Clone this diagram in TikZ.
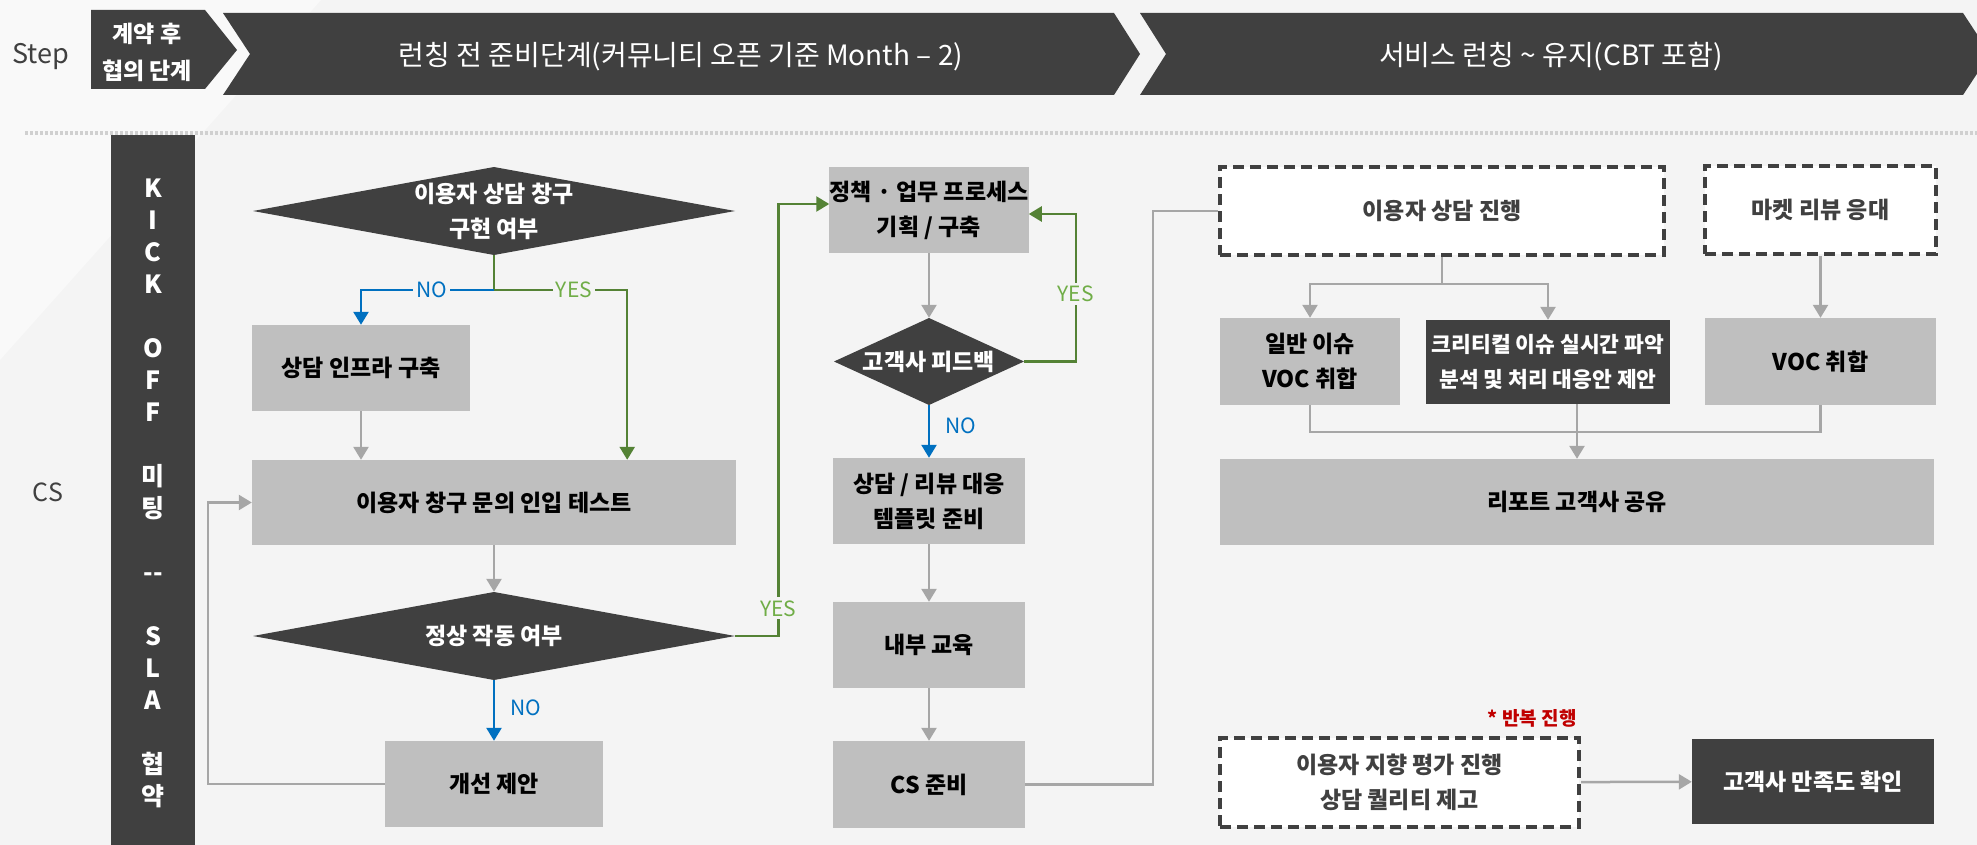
\documentclass[tikz,border=0pt]{standalone}
\usepackage{fontspec}
\setmainfont{Noto Sans CJK KR}
\usetikzlibrary{arrows.meta}
\definecolor{bgc}{HTML}{F4F4F4}
\definecolor{lightc}{HTML}{F9F9F9}
\definecolor{darkc}{HTML}{404040}
\definecolor{boxc}{HTML}{BFBFBF}
\definecolor{linec}{HTML}{A6A6A6}
\definecolor{dotc}{HTML}{D0D0D0}
\definecolor{yesc}{HTML}{548235}
\definecolor{yestxt}{HTML}{70AD47}
\definecolor{noc}{HTML}{0070C0}
\definecolor{redc}{HTML}{C00000}
\begin{document}
\begin{tikzpicture}[x=1pt,y=-1pt,>={Triangle[width=15pt,length=13pt]},
  gbox/.style={fill=boxc,inner sep=0pt,align=center,font=\fontsize{23}{35}\selectfont\bfseries},
  dbox/.style={gbox,fill=darkc,text=white},
  wbox/.style={fill=white,draw=darkc,line width=4pt,dash pattern=on 11pt off 6pt,inner sep=0pt,align=center,text=darkc,font=\fontsize{23}{35}\selectfont\bfseries},
  dia/.style={inner sep=0pt,align=center,text=white,font=\fontsize{23}{35}\selectfont\bfseries,
    path picture={\fill[darkc] (path picture bounding box.west) -- (path picture bounding box.north) -- (path picture bounding box.east) -- (path picture bounding box.south) -- cycle;}},
  sz/.style 2 args={minimum width=#1pt,minimum height=#2pt},
  conn/.style={linec,line width=2.5pt},
  yesline/.style={yesc,line width=2.5pt},
  noline/.style={noc,line width=2.5pt},
  yeslbl/.style={text=yestxt,fill=bgc,inner sep=3pt,font=\fontsize{21}{21}\selectfont},
  nolbl/.style={text=noc,fill=bgc,inner sep=3pt,font=\fontsize{21}{21}\selectfont},
  steplbl/.style={text=white,font=\fontsize{28}{28}\selectfont}]
\useasboundingbox (0,0) rectangle (1977,845);
\clip (0,0) rectangle (1977,845);
\fill[bgc] (0,0) rectangle (1977,845);
\fill[lightc] (0,0) -- (321,0) -- (0,360) -- cycle;
\fill[darkc] (91,10) -- (205,10) -- (237,50) -- (205,89) -- (91,89) -- cycle;
\fill[darkc] (223,13) -- (1114,13) -- (1140,54) -- (1114,95) -- (223,95) -- (250,54) -- cycle;
\fill[darkc] (1140,13) -- (1963,13) -- (1990,54) -- (1963,95) -- (1140,95) -- (1166,54) -- cycle;
\node[text=darkc,font=\fontsize{27}{27}\selectfont] (step) at (41,57) {Step};
\node[text=white,align=center,font=\fontsize{23}{37}\selectfont\bfseries] (contract) at (147,52) {계약 후\\협의 단계};
\node[steplbl] (prelaunch) at (681,57) {런칭 전 준비단계(커뮤니티 오픈 기준 Month – 2)};
\node[steplbl] (launch) at (1551,57) {서비스 런칭 \textasciitilde{} 유지(CBT 포함)};
\draw[dotc,line width=4pt,dash pattern=on 3pt off 2pt] (25,133) -- (1977,133);
\node[text=darkc,font=\fontsize{25}{25}\selectfont] (cs) at (48,492) {CS};
\fill[darkc] (111,135) rectangle (195,845);
\node[text=white,align=center,font=\fontsize{25}{32}\selectfont\bfseries] (kickoff) at (153,493)
  {K\\I\\C\\K\\[32pt]O\\F\\F\\[32pt]미\\팅\\[32pt]-{}-\\[32pt]S\\L\\A\\[32pt]협\\약};

\node[dia,sz={482}{88}] (dia1) at (494,211) {이용자 상담 창구\\구현 여부};
\node[gbox,sz={218}{86}] (infra) at (361,368) {상담 인프라 구축};
\node[gbox,sz={484}{85}] (test) at (494,502.5) {이용자 창구 문의 인입 테스트};
\node[dia,sz={482}{88}] (dia2) at (494,636) {정상 작동 여부};
\node[gbox,sz={218}{86}] (fix) at (494,784) {개선 제안};

\node[gbox,sz={192}{86}] (policy) at (929,210) {정책 · 업무 프로세스\\기획 / 구축};
\node[dia,sz={190}{87}] (fb) at (929,361.5) {고객사 피드백};
\node[gbox,sz={192}{86}] (tmpl) at (929,501) {상담 / 리뷰 대응\\템플릿 준비};
\node[gbox,sz={192}{86}] (edu) at (929,645) {내부 교육};
\node[gbox,sz={192}{87}] (prep) at (929,784.5) {CS 준비};

\node[wbox,sz={444}{88}] (consult) at (1442,211) {이용자 상담 진행};
\node[wbox,sz={231}{88}] (market) at (1820.5,210) {마켓 리뷰 응대};
\node[gbox,sz={180}{87}] (general) at (1310,361.5) {일반 이슈\\VOC 취합};
\node[dbox,sz={244}{84},font=\fontsize{21.5}{35}\selectfont\bfseries] (critical) at (1548,362) {크리티컬 이슈 실시간 파악\\분석 및 처리 대응안 제안};
\node[gbox,sz={231}{87}] (voc) at (1820.5,361.5) {VOC 취합};
\node[gbox,sz={714}{86}] (report) at (1577,502) {리포트 고객사 공유};
\node[wbox,sz={359}{89}] (eval) at (1399.5,782.5) {이용자 지향 평가 진행\\상담 퀄리티 제고};
\node[dbox,sz={242}{85}] (sat) at (1813,781.5) {고객사 만족도 확인};
\node[text=redc,anchor=east,font=\fontsize{19}{19}\selectfont\bfseries] (repeat) at (1580,718) {* 반복 진행};

\coordinate (split1) at ([yshift=-35pt]dia1.south);
\draw[yesline] (dia1.south) -- (split1);
\draw[yesline,->] (split1) -| node[yeslbl,pos=0.3] (yes1) {YES} ([xshift=-109pt]test.north east);
\draw[noline,->] (split1) -| node[nolbl,pos=0.235] (no1) {NO} (infra.north);
\draw[conn,->] (infra.south) -- (infra.south |- test.north);
\draw[conn,->] (test) -- (dia2);
\draw[noline,->] (dia2) -- node[nolbl,right=12pt,pos=0.45] (no2) {NO} (fix);
\draw[conn,->] (fix.west) -| ([xshift=-44pt]test.west) -- (test.west);
\draw[yesline,->] (dia2.east) -| node[yeslbl,pos=0.532] (yes2) {YES} ([xshift=-51pt,yshift=6pt]policy.west) -- ([yshift=6pt]policy.west);

\draw[conn,->] (policy) -- (fb);
\draw[yesline,->] (fb.east) -| node[yeslbl,pos=0.73] (yes3) {YES} ([xshift=47pt,yshift=-4pt]policy.east) -- ([yshift=-4pt]policy.east);
\draw[noline,->] (fb) -- node[nolbl,right=12pt,pos=0.4] (no3) {NO} (tmpl);
\draw[conn,->] (tmpl) -- (edu);
\draw[conn,->] (edu) -- (prep);
\draw[conn] (prep.east) -| ([xshift=-65pt]consult.west) -- (consult.west);

\coordinate (split2) at ([yshift=-27pt]consult.south);
\draw[conn] (consult.south) -- (split2);
\draw[conn,->] (split2) -| (general.north);
\draw[conn,->] (split2) -| (critical.north);
\draw[conn,->] (market) -- (voc);
\draw[conn] (general.south) -- ++(0,27) -| (voc.south);
\draw[conn,->] (critical.south -| report.north) -- (report.north);
\draw[conn,->] (eval) -- (sat);
\end{tikzpicture}
\end{document}
